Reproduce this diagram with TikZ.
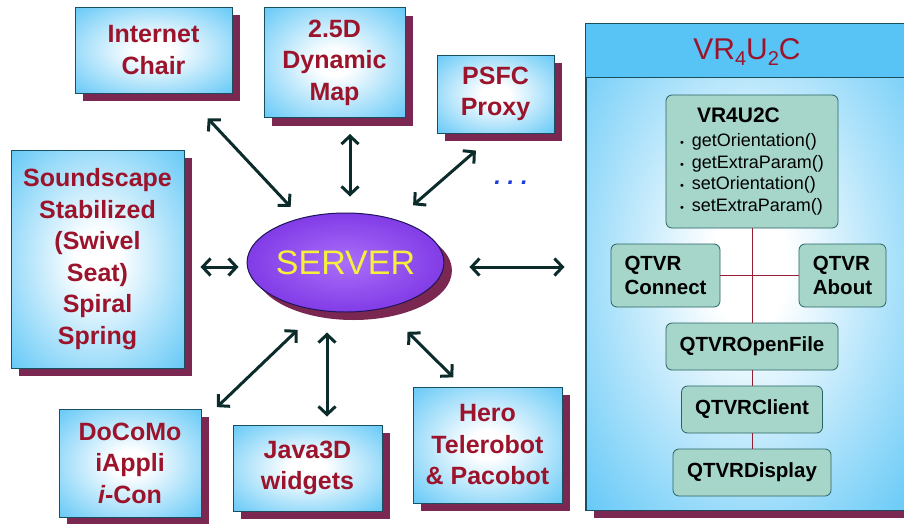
\documentclass[tikz,border=0pt]{standalone}
\usepackage{fontspec}
\setmainfont{Liberation Sans}
\usetikzlibrary{shapes.geometric,shadows,arrows.meta}
\definecolor{boxblue}{RGB}{88,196,246}
\definecolor{bordc}{RGB}{25,80,95}
\definecolor{txtred}{RGB}{156,20,44}
\definecolor{shadc}{RGB}{122,40,82}
\definecolor{arrc}{RGB}{12,44,44}
\definecolor{srvin}{RGB}{170,110,250}
\definecolor{srvout}{RGB}{92,14,212}
\definecolor{srvbord}{RGB}{30,20,90}
\definecolor{srvtxt}{RGB}{244,240,60}
\definecolor{clsfill}{RGB}{166,214,202}
\definecolor{clsbord}{RGB}{40,100,100}
\definecolor{linered}{RGB}{150,30,50}
\definecolor{dotblue}{RGB}{30,60,220}
\pgfdeclareradialshading{boxshade}{\pgfpoint{0bp}{0bp}}{color(0bp)=(white); color(6bp)=(white); color(38bp)=(boxblue); color(100bp)=(boxblue)}
\pgfdeclareradialshading{srvshade}{\pgfpoint{0bp}{0bp}}{color(0bp)=(srvin); color(48bp)=(srvout); color(100bp)=(srvout)}
\tikzset{
  shad/.style={drop shadow={shadow xshift=8pt,shadow yshift=-8pt,fill=shadc,opacity=1}},
  sbox/.style={shad, draw=bordc, line width=1pt, shade, shading=boxshade,
     text=txtred, font=\bfseries\fontsize{25}{31.5}\selectfont, align=center, inner sep=0pt},
  cbox/.style={draw=clsbord, line width=0.8pt, fill=clsfill, rounded corners=6pt, inner sep=0pt,
     font=\bfseries\fontsize{20.5}{24}\selectfont},
  arr/.style={draw=arrc, line width=3pt, {Straight Barb[length=8pt,width=17pt]}-{Straight Barb[length=8pt,width=17pt]}},
  cline/.style={draw=linered, line width=1pt},
}
\begin{document}
\begin{tikzpicture}[x=1pt,y=-1pt]
\useasboundingbox (0,0) rectangle (904,523);
% right panel
\node[shad, draw=bordc, line width=1pt, shade, shading=boxshade, minimum width=326pt, minimum height=486pt, inner sep=0pt] (vr) at (749,267) {};
\fill[left color=boxblue, middle color=white!55!boxblue, right color=boxblue] (vr.north west) rectangle ([yshift=-54pt]vr.north east);
\draw[bordc, line width=1.5pt] ([yshift=-54pt]vr.north west) -- ([yshift=-54pt]vr.north east);
\draw[bordc, line width=1pt] (vr.north west) rectangle (vr.south east);
\node[text=txtred, font=\fontsize{30}{30}\selectfont, inner sep=0pt] (vrt) at (747,52) {VR\raisebox{-6pt}{\fontsize{20}{20}\selectfont 4}U\raisebox{-6pt}{\fontsize{20}{20}\selectfont 2}C};
% inner class boxes
\node[cbox, minimum width=172pt, minimum height=133pt, align=left, font=\mdseries\fontsize{18}{21.7}\selectfont] (cls) at (752,161.5)
 {{\bfseries\fontsize{21}{24}\selectfont\hspace*{17pt}VR4U2C}\\[2.3pt]
  {\fontsize{11}{11}\selectfont\textbullet}\hspace{8pt}getOrientation()\\
  {\fontsize{11}{11}\selectfont\textbullet}\hspace{8pt}getExtraParam()\\
  {\fontsize{11}{11}\selectfont\textbullet}\hspace{8pt}setOrientation()\\
  {\fontsize{11}{11}\selectfont\textbullet}\hspace{8pt}setExtraParam()};
\node[cbox, minimum width=109pt, minimum height=63pt, align=left] (conn) at (665.5,275.5) {QTVR\\Connect};
\node[cbox, minimum width=87pt, minimum height=63pt, align=left] (about) at (842.5,275.5) {QTVR\\About};
\node[cbox, minimum width=172pt, minimum height=47pt] (open) at (752,346.5) {QTVROpenFile};
\node[cbox, minimum width=141pt, minimum height=47pt] (client) at (752,409.5) {QTVRClient};
\node[cbox, minimum width=158pt, minimum height=47pt] (disp) at (752,472.5) {QTVRDisplay};
\draw[cline] (cls.south) -- (cls.south |- open.north);
\draw[cline] (open.south) -- (open.south |- client.north);
\draw[cline] (client.south) -- (client.south |- disp.north);
\draw[cline] (conn.east) -- (about.west);
% outer boxes
\node[sbox, minimum width=157pt, minimum height=86pt] (ic) at (153.5,50) {Internet\\Chair};
\node[sbox, minimum width=141pt, minimum height=110pt] (map) at (334.5,62.5) {2.5D\\Dynamic\\Map};
\node[sbox, minimum width=117pt, minimum height=78pt] (psfc) at (495.5,94) {PSFC\\Proxy};
\node[sbox, minimum width=173pt, minimum height=218pt] (snd) at (97.5,259) {Soundscape\\Stabilized\\(Swivel\\Seat)\\Spiral\\Spring};
\node[sbox, minimum width=142pt, minimum height=108pt] (doc) at (130,463) {DoCoMo\\iAppli\\{\itshape i}-Con};
\node[sbox, minimum width=149pt, minimum height=86pt] (java) at (307.5,468) {Java3D\\widgets};
\node[sbox, minimum width=149pt, minimum height=116pt] (hero) at (487.5,445) {Hero\\Telerobot\\\&~Pacobot};
\node[text=dotblue, font=\bfseries\itshape\fontsize{24}{24}\selectfont, inner sep=0pt] (dots) at (511,183) {.~.~.};
% server
\node[shad, ellipse, draw=srvbord, line width=1pt, shade, shading=srvshade, minimum width=195pt, minimum height=99pt, inner sep=0pt, text=srvtxt, font=\fontsize{34}{34}\selectfont] (srv) at (345.5,262.5) {SERVER};
% arrows
\draw[arr, shorten <=34pt, shorten >=15pt] ([xshift=31pt]ic.south) -- (srv.135);
\draw[arr, shorten <=16pt, shorten >=16pt] ([xshift=15.5pt]map.south) -- ([xshift=4.5pt]srv.north);
\draw[arr, shorten <=26pt, shorten >=22pt] (psfc.south) -- (srv.40);
\draw[arr, shorten <=16pt, shorten >=8pt] ([yshift=-8pt]snd.east) -- ([yshift=-4.5pt]srv.west);
\draw[arr, shorten <=25pt, shorten >=21pt] ([yshift=-4.5pt]srv.east) -- (vr.west);
\draw[arr, shorten <=28pt, shorten >=2pt] (srv.240) -- ([xshift=14pt]doc.north east);
\draw[arr, shorten <=20pt, shorten >=8pt] ([xshift=-18.5pt]srv.south) -- ([xshift=19.5pt]java.north);
\draw[arr, shorten <=33pt, shorten >=13pt] (srv.310) -- ([xshift=-25pt]hero.north);
\end{tikzpicture}
\end{document}
